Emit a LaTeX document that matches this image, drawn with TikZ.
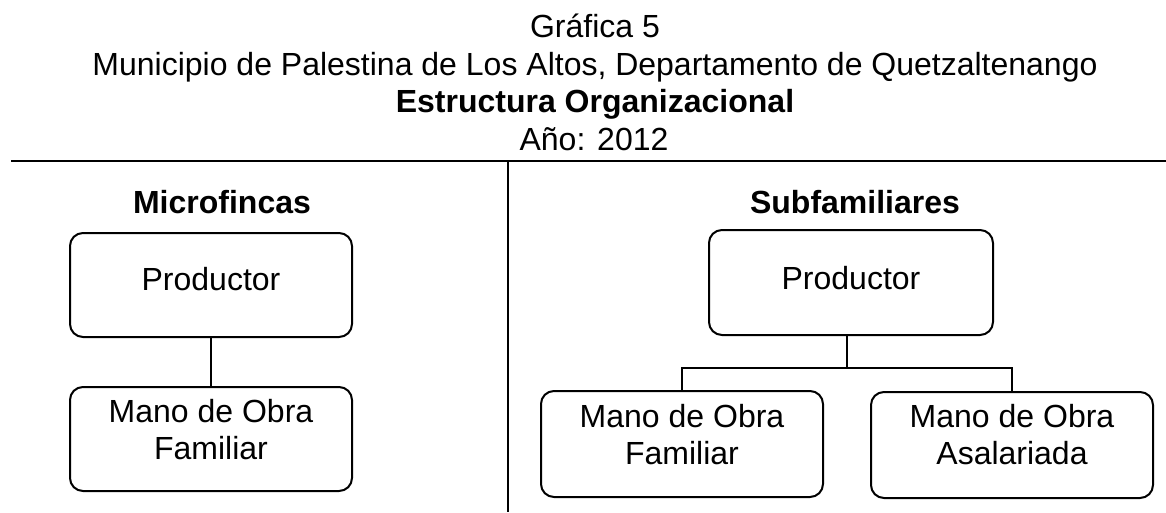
\documentclass[tikz,border=0pt]{standalone}
\usepackage{fontspec}
\setmainfont{Liberation Sans}
\begin{document}
\begin{tikzpicture}[x=1pt,y=-1pt,
  box/.style={draw=black, line width=2pt, rounded corners=13pt, minimum width=282pt, inner sep=0pt},
  txt/.style={anchor=base, inner sep=0pt, font=\fontsize{32}{37}\selectfont},
  btxt/.style={txt, font=\fontsize{32}{37}\selectfont\bfseries},
  conn/.style={draw=black, line width=1.6pt},
  rule/.style={draw=black, line width=2pt}]
\useasboundingbox (0,0) rectangle (1166,512);
% titles
\node[txt] (t1) at (595,37) {Gráfica 5};
\node[txt] (t2) at (595,75) {Municipio de Palestina de Los Altos, Departamento de Quetzaltenango};
\node[btxt] (t3) at (595,112) {Estructura Organizacional};
\node[txt] (t4) at (594,150) {Año: 2012};
% rules
\draw[rule] (11,161) -- (1166,161);
\draw[rule] (508,161) -- (508,512);
% left
\node[btxt] (h1) at (222,213) {Microfincas};
\node[box, minimum height=104pt] (p1) at (211,285) {};
\node[txt] (p1t) at (211,290) {Productor};
\node[box, minimum height=104pt] (f1) at (211,439) {};
\node[txt] (f1a) at (211,422) {Mano de Obra};
\node[txt] (f1b) at (211,459) {Familiar};
\draw[conn] (p1.south) -- (f1.north);
% right
\node[btxt] (h2) at (855,213) {Subfamiliares};
\node[box, minimum height=105pt, minimum width=284pt] (p2) at (851,282.5) {};
\node[txt] (p2t) at (851,289) {Productor};
\node[box, minimum height=106pt] (f2) at (682,444) {};
\node[txt] (f2a) at (682,427) {Mano de Obra};
\node[txt] (f2b) at (682,464) {Familiar};
\node[box, minimum height=106pt] (a2) at (1012,445) {};
\node[txt] (a2a) at (1012,427) {Mano de Obra};
\node[txt] (a2b) at (1012,464) {Asalariada};
\coordinate (j) at (847,368);
\draw[conn] (p2.south -| j) -- (j);
\draw[conn] (f2.north) |- (j) -| (a2.north);
\end{tikzpicture}
\end{document}
